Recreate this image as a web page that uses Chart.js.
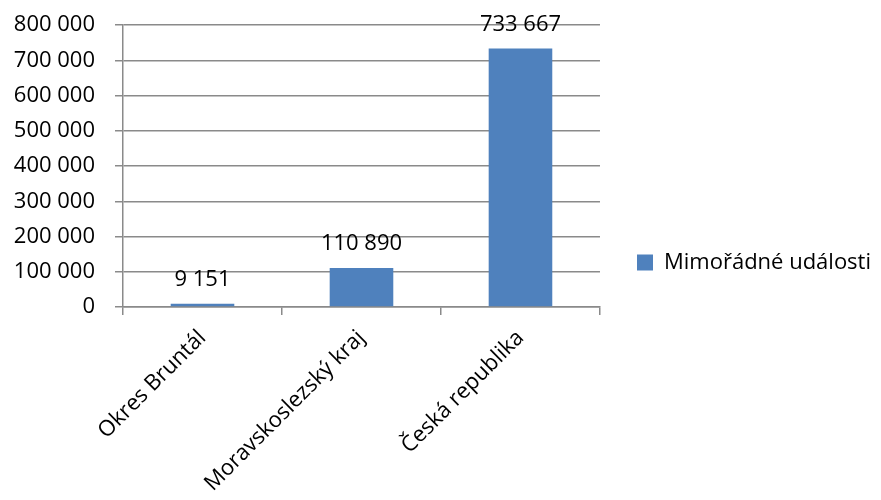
<!DOCTYPE html>
<html>
<head>
<meta charset="utf-8">
<script src="https://cdn.jsdelivr.net/npm/chart.js@4"></script>
<style>
    body { margin: 0; background: #ffffff; }
    #wrap { width: 881px; height: 500px; }
</style>
</head>
<body>
<div id="wrap"><canvas id="chart" width="881" height="500"></canvas></div>
<script>
const categories = ["Okres Bruntál", "Moravskoslezský kraj", "Česká republika"];
const seriesName = "Mimořádné události";
const values = [9151, 110890, 733667];
const yTicks = [0, 100000, 200000, 300000, 400000, 500000, 600000, 700000, 800000];

const FONT = "'Open Sans', 'DejaVu Sans', sans-serif";
const BAR_COLOR = "#4f81bd";
const GRID_COLOR = "#8a8a8a";

function formatNumber(n) {
    return String(n).replace(/\B(?=(\d{3})+(?!\d))/g, " ");
}

// draw value above each bar
const valueLabels = {
    id: "valueLabels",
    afterDatasetsDraw(chart) {
        const ctx = chart.ctx;
        const meta = chart.getDatasetMeta(0);
        ctx.save();
        ctx.font = "22px " + FONT;
        ctx.fillStyle = "#000000";
        ctx.textAlign = "center";
        ctx.textBaseline = "bottom";
        meta.data.forEach((bar, i) => {
            ctx.fillText(formatNumber(values[i]), bar.x, bar.y - 13);
        });
        ctx.restore();
    }
};

function drawChart() {
    new Chart(document.getElementById("chart").getContext("2d"), {
        type: "bar",
        data: {
            labels: categories,
            datasets: [{
                label: seriesName,
                data: values,
                backgroundColor: BAR_COLOR,
                borderWidth: 0,
                barPercentage: 0.4,
                categoryPercentage: 1.0,
            }],
        },
        options: {
            responsive: false,
            animation: false,
            devicePixelRatio: 1,
            layout: {
                padding: { top: 25, right: 0, bottom: 0, left: 0 },
            },
            plugins: {
                tooltip: { enabled: false },
                legend: {
                    position: "right",
                    maxWidth: 284,
                    labels: {
                        boxWidth: 16,
                        boxHeight: 16,
                        padding: 37,
                        color: "#000000",
                        font: { family: FONT, size: 22 },
                    },
                },
            },
            scales: {
                x: {
                    offset: true,
                    grid: {
                        offset: true,
                        drawOnChartArea: false,
                        drawTicks: true,
                        tickLength: 8,
                        color: GRID_COLOR,
                        lineWidth: 1.5,
                    },
                    border: { color: GRID_COLOR, width: 1.5 },
                    ticks: {
                        color: "#000000",
                        font: { family: FONT, size: 22 },
                        maxRotation: 45,
                        minRotation: 45,
                        autoSkip: false,
                        padding: 10,
                    },
                    afterFit(scale) { scale.height = 193; },
                },
                y: {
                    min: 0,
                    max: 800000,
                    afterBuildTicks(scale) {
                        scale.ticks = yTicks.map(v => ({ value: v }));
                    },
                    grid: {
                        color: GRID_COLOR,
                        lineWidth: 1.5,
                        drawTicks: true,
                        tickLength: 8,
                    },
                    border: { color: GRID_COLOR, width: 1.5 },
                    ticks: {
                        color: "#000000",
                        font: { family: FONT, size: 22 },
                        padding: 20,
                        callback: v => formatNumber(v),
                    },
                    afterFit(scale) {
                        scale.width = 123;
                        scale.paddingTop = 0;
                        scale.paddingBottom = 0;
                    },
                },
            },
        },
        plugins: [valueLabels],
    });
}

// make sure Open Sans is ready before Chart.js measures text
document.fonts.load("22px 'Open Sans'").then(drawChart, drawChart);
</script>
</body>
</html>
